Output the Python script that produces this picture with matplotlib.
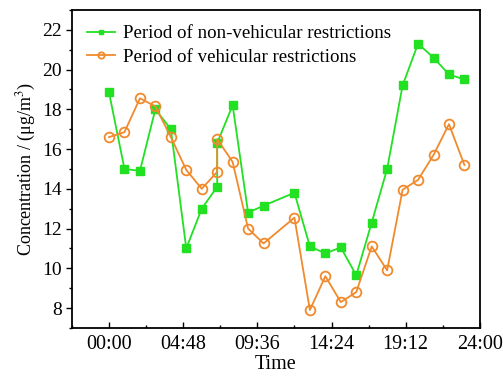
import matplotlib.pyplot as plt
from matplotlib.ticker import MultipleLocator

plt.rcParams['font.family'] = ['Liberation Serif', 'DejaVu Serif']
plt.rcParams['mathtext.fontset'] = 'stix'

# heures de mesure (7h apparait deux fois, 11h absent)
hours = [0, 1, 2, 3, 4, 5, 6, 7, 7, 8, 9, 10, 12, 13, 14, 15, 16, 17, 18, 19, 20, 21, 22, 23]
non_veh = [18.85, 15.0, 14.9, 18.0, 17.0, 11.0, 13.0, 14.1, 16.3, 18.2, 12.8, 13.15,
           13.8, 11.1, 10.75, 11.05, 9.65, 12.3, 15.0, 19.2, 21.3, 20.6, 19.75, 19.5]
veh = [16.6, 16.85, 18.55, 18.15, 16.6, 14.95, 14.0, 14.85, 16.5, 15.35, 12.0, 11.25,
       12.55, 7.9, 9.6, 8.3, 8.8, 11.1, 9.9, 13.95, 14.45, 15.7, 17.25, 15.2]

xticks = [0, 4.8, 9.6, 14.4, 19.2, 24]
xlabels = ['00:00', '04:48', '09:36', '14:24', '19:12', '24:00']

fig = plt.figure(figsize=(5.03, 3.80), dpi=100)
ax = fig.add_axes([0.143, 0.137, 0.811, 0.837])

ax.plot(hours, non_veh, color='#22e022', marker='s', markersize=5.3, lw=1.3,
        label='Period of non-vehicular restrictions')
ax.plot(hours, veh, color='#f08a2c', marker='o', markersize=7, mfc='none', mew=1.3, lw=1.3,
        label='Period of vehicular restrictions')

ax.set_xlim(-2.4, 24)
ax.set_ylim(7, 23)
ax.set_xticks(xticks)
ax.set_xticklabels(xlabels)
ax.xaxis.set_minor_locator(MultipleLocator(2.4))
ax.set_yticks([8, 10, 12, 14, 16, 18, 20, 22])
ax.yaxis.set_minor_locator(MultipleLocator(1))
ax.tick_params(axis='x', which='both', direction='in', labelsize=14.5, pad=5)
ax.tick_params(axis='y', which='both', direction='out', labelsize=14)
ax.tick_params(which='major', length=4, width=1)
ax.tick_params(which='minor', length=2.5, width=1)
for s in ax.spines.values():
    s.set_linewidth(1.3)

ax.set_xlabel('Time', fontsize=14.5, labelpad=1)
ax.set_ylabel('Concentration / (μg/m$^3$)', fontsize=13, labelpad=3)

ax.legend(loc='upper left', frameon=False, fontsize=13.6, markerscale=0.65, handlelength=1.5,
          handletextpad=0.4, borderaxespad=0.5, labelspacing=0.35, borderpad=0.3)

plt.savefig('out.png', dpi=100)
